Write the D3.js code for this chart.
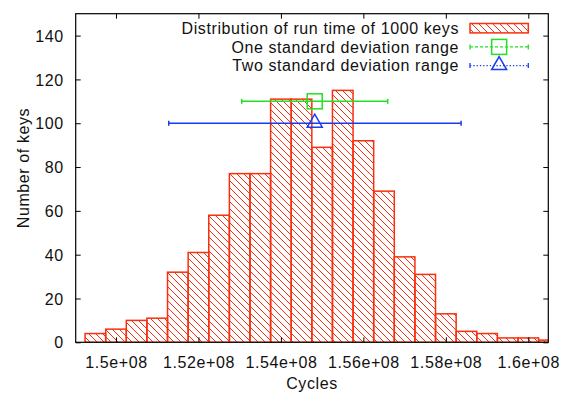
<!DOCTYPE html>
<html>
<head>
<meta charset="utf-8">
<script src="https://cdn.jsdelivr.net/npm/d3@7"></script>
<style>
  html, body { margin: 0; padding: 0; background: #fff; }
  svg text { font-family: "Liberation Sans", Arial, Helvetica, sans-serif; font-size: 16px; letter-spacing: 0.6px; fill: #111; }
</style>
</head>
<body>
<svg id="chart" width="564" height="393"></svg>
<script>
// ---- data ----
const binCenters = [149.5e6, 150.0e6, 150.5e6, 151.0e6, 151.5e6, 152.0e6, 152.5e6, 153.0e6,
                    153.5e6, 154.0e6, 154.5e6, 155.0e6, 155.5e6, 156.0e6, 156.5e6, 157.0e6,
                    157.5e6, 158.0e6, 158.5e6, 159.0e6, 159.5e6, 160.0e6, 160.5e6];
const counts = [4, 6, 10, 11, 32, 41, 58, 77, 77, 111, 111, 89, 115, 92, 69, 39, 31, 13, 5, 4, 2, 2, 1];
const binWidth = 0.5e6;
const xDomain = [149.023e6, 160.485e6];
const yDomain = [0, 150];
const xTicks = [150e6, 152e6, 154e6, 156e6, 158e6, 160e6];
const xTickLabels = ["1.5e+08", "1.52e+08", "1.54e+08", "1.56e+08", "1.58e+08", "1.6e+08"];
const yTicks = [0, 20, 40, 60, 80, 100, 120, 140];
const oneSd = { center: 154.82e6, lo: 153.05e6, hi: 156.59e6, y: 110 };
const twoSd = { center: 154.82e6, lo: 151.28e6, hi: 158.37e6, y: 100 };
const legendLabels = ["Distribution of run time of 1000 keys", "One standard deviation range", "Two standard deviation range"];

// ---- layout ----
const L = 75.7, R = 548.3, T = 13.7, B = 342.3;
const RED = "#f8300f", GREEN = "#22e022", BLUE = "#1a3cf0";
const svg = d3.select("#chart");
const x = d3.scaleLinear().domain(xDomain).range([L, R]);
const y = d3.scaleLinear().domain(yDomain).range([B, T]);

const defs = svg.append("defs");
const pat = defs.append("pattern").attr("id", "hatch").attr("patternUnits", "userSpaceOnUse")
  .attr("width", 7).attr("height", 7);
pat.append("path").attr("d", "M-1,-1 L8,8 M-1,6 L1,8 M6,-1 L8,1")
  .attr("stroke", RED).attr("stroke-width", 1).attr("fill", "none");
defs.append("clipPath").attr("id", "clip").append("rect")
  .attr("x", L).attr("y", T).attr("width", R - L).attr("height", B - T);

// bars
svg.append("g").attr("clip-path", "url(#clip)")
  .selectAll("rect").data(binCenters).join("rect")
  .attr("x", (d) => x(d - binWidth / 2))
  .attr("width", (d) => x(d + binWidth / 2) - x(d - binWidth / 2))
  .attr("y", (d, i) => y(counts[i]))
  .attr("height", (d, i) => B - y(counts[i]))
  .attr("fill", "url(#hatch)")
  .attr("stroke", RED).attr("stroke-width", 1.5);

// error bars
function errBar(g, e, color, cy) {
  g.append("line").attr("x1", x(e.lo)).attr("x2", x(e.hi)).attr("y1", cy).attr("y2", cy)
    .attr("stroke", color).attr("stroke-width", 1.5);
  [e.lo, e.hi].forEach(v => g.append("line").attr("x1", x(v)).attr("x2", x(v))
    .attr("y1", cy - 2.5).attr("y2", cy + 2.5).attr("stroke", color).attr("stroke-width", 1.5));
}
function square(g, cx, cy, color) {
  g.append("rect").attr("x", cx - 7.5).attr("y", cy - 7.5).attr("width", 15).attr("height", 15)
    .attr("fill", "none").attr("stroke", color).attr("stroke-width", 1.5);
}
function triangle(g, cx, cy, color) {
  g.append("path").attr("d", `M${cx},${cy - 9} L${cx + 7.5},${cy + 4} L${cx - 7.5},${cy + 4} Z`)
    .attr("fill", "none").attr("stroke", color).attr("stroke-width", 1.5);
}
const eg = svg.append("g");
errBar(eg, oneSd, GREEN, y(oneSd.y));
square(eg, x(oneSd.center), y(oneSd.y), GREEN);
errBar(eg, twoSd, BLUE, y(twoSd.y));
triangle(eg, x(twoSd.center), y(twoSd.y), BLUE);

// frame
svg.append("rect").attr("x", L).attr("y", T).attr("width", R - L).attr("height", B - T)
  .attr("fill", "none").attr("stroke", "#000").attr("stroke-width", 1.2);

// axes (inward ticks)
const tickLen = 5;
const axL = svg.append("g").attr("transform", `translate(${L},0)`)
  .call(d3.axisLeft(y).tickValues(yTicks).tickSize(-tickLen).tickPadding(tickLen + 7));
const axR = svg.append("g").attr("transform", `translate(${R},0)`)
  .call(d3.axisRight(y).tickValues(yTicks).tickSize(-tickLen).tickFormat(""));
const axB = svg.append("g").attr("transform", `translate(0,${B})`)
  .call(d3.axisBottom(x).tickValues(xTicks).tickSize(-tickLen).tickPadding(tickLen + 9)
    .tickFormat((d, i) => xTickLabels[i]));
const axT = svg.append("g").attr("transform", `translate(0,${T})`)
  .call(d3.axisTop(x).tickValues(xTicks).tickSize(-tickLen).tickFormat(""));
[axL, axR, axB, axT].forEach(a => {
  a.select(".domain").remove();
  a.selectAll(".tick line").attr("stroke", "#000").attr("stroke-width", 1);
  a.selectAll("text").attr("font-family", null).attr("font-size", null).attr("fill", "#111");
});
axL.selectAll("text").attr("dy", "0.35em");
axB.selectAll("text").attr("dy", "0.72em");

// axis titles
svg.append("text").attr("transform", "translate(29,168) rotate(-90)")
  .attr("text-anchor", "middle").text("Number of keys");
svg.append("text").attr("x", (L + R) / 2).attr("y", 389)
  .attr("text-anchor", "middle").text("Cycles");

// legend
const lg = svg.append("g");
const rowY = [28.2, 46.9, 65.6];
const sx0 = 470, sx1 = 528.3, scx = (sx0 + sx1) / 2;
legendLabels.forEach((t, i) => {
  lg.append("text").attr("x", 459).attr("y", rowY[i] + 5.7).attr("text-anchor", "end").text(t);
});
lg.append("rect").attr("x", sx0).attr("y", rowY[0] - 4.7).attr("width", sx1 - sx0).attr("height", 9.4)
  .attr("fill", "url(#hatch)").attr("stroke", RED).attr("stroke-width", 1.5);
function legLine(cy, color, dash) {
  lg.append("line").attr("x1", sx0).attr("x2", sx1).attr("y1", cy).attr("y2", cy)
    .attr("stroke", color).attr("stroke-width", 1.3).attr("stroke-dasharray", dash);
  [sx0, sx1].forEach(v => lg.append("line").attr("x1", v).attr("x2", v)
    .attr("y1", cy - 2.5).attr("y2", cy + 2.5).attr("stroke", color).attr("stroke-width", 1.3));
}
legLine(rowY[1], GREEN, "3,2");
square(lg, scx, rowY[1], GREEN);
legLine(rowY[2], BLUE, "1.3,2");
triangle(lg, scx, rowY[2], BLUE);
</script>
</body>
</html>
